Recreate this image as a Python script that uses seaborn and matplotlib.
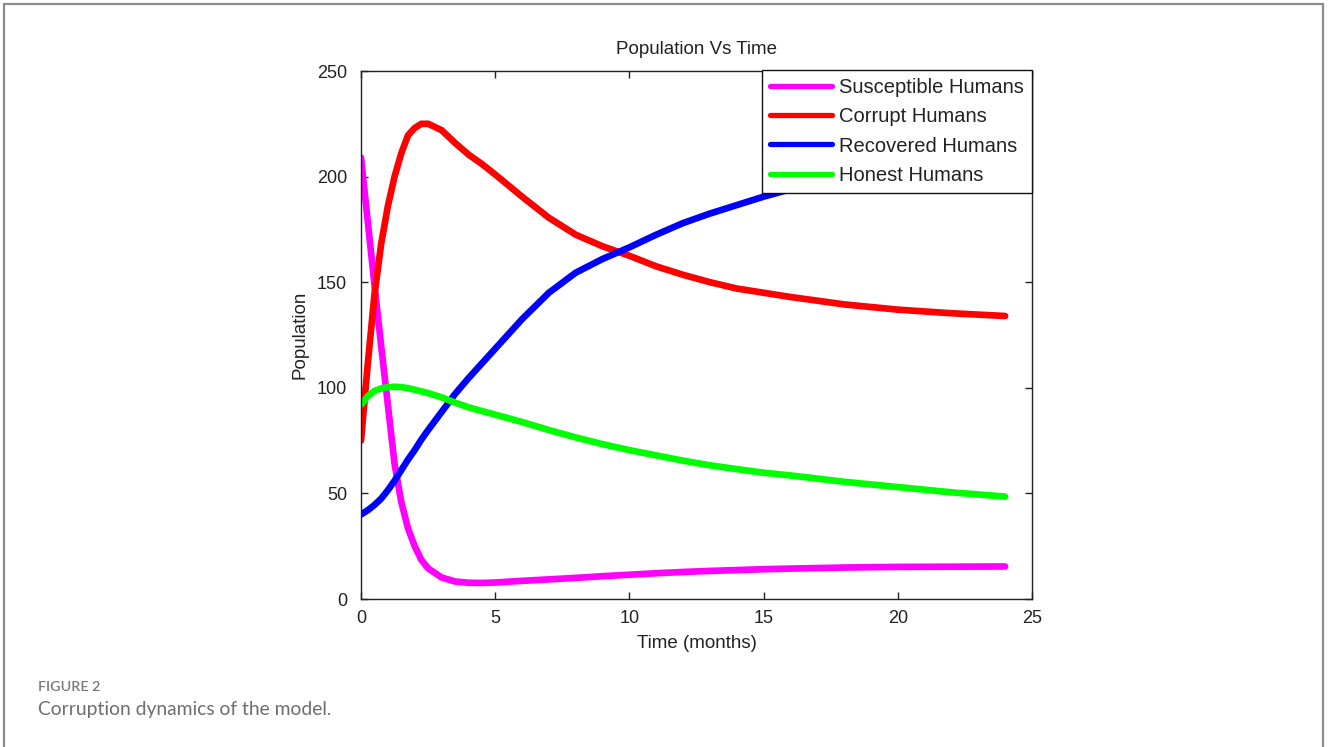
import numpy as np
import pandas as pd
import matplotlib
matplotlib.use("Agg")
import matplotlib.pyplot as plt
from matplotlib.patches import Rectangle
from matplotlib.lines import Line2D
import seaborn as sns

# ---- data ----
time_months = [0, 0.25, 0.5, 0.75, 1, 1.25, 1.5, 1.75, 2, 2.25, 2.5, 3, 3.5, 4, 4.5,
               5, 6, 7, 8, 9, 10, 11, 12, 13, 14, 15, 16, 18, 20, 22, 24]
susceptible = [209, 179, 149, 120, 92, 64, 46, 33.5, 25, 18.5, 14.5, 10.2, 8.3, 7.7, 7.6,
               7.8, 8.6, 9.3, 10.0, 10.8, 11.5, 12.2, 12.8, 13.3, 13.7, 14.1, 14.4, 14.9, 15.2, 15.3, 15.4]
corrupt = [75, 111, 144, 168, 186, 200, 211, 219.5, 223, 225, 225, 222, 216, 210.5, 206,
           201, 190.5, 180.5, 172.5, 167, 162.5, 157.5, 153.5, 150, 147, 145, 143, 139.5, 137, 135.3, 134]
recovered = [40, 42, 44.5, 47.5, 51.5, 56, 61, 66, 70.5, 75.5, 80, 88.5, 97, 104.5, 111.5,
             118.5, 132.5, 145, 154.5, 161, 166.5, 172.5, 178, 182.5, 186.5, 190.5, 194, 200, 205, 209, 212]
honest = [92, 96, 98.5, 99.7, 100.3, 100.5, 100.3, 99.8, 99.1, 98.3, 97.5, 95.5, 93, 90.8, 89,
          87.3, 83.8, 80, 76.5, 73.3, 70.5, 68, 65.5, 63.3, 61.5, 59.8, 58.5, 55.5, 53, 50.5, 48.5]

series_names = ["Susceptible Humans", "Corrupt Humans", "Recovered Humans", "Honest Humans"]
series_colors = ["#ff00ff", "#ff0000", "#0000ff", "#00ff00"]
x_ticks = [0, 5, 10, 15, 20, 25]
y_ticks = [0, 50, 100, 150, 200, 250]

frames = []
for name, vals in zip(series_names, [susceptible, corrupt, recovered, honest]):
    frames.append(pd.DataFrame({"Time": time_months, "Population": vals, "Series": name}))
df = pd.concat(frames, ignore_index=True)

# ---- style ----
sns.set_style("ticks")
plt.rcParams["font.family"] = ["Liberation Sans", "DejaVu Sans"]

W, H = 1328, 747
fig = plt.figure(figsize=(W / 100, H / 100), dpi=100)
fig.patch.set_facecolor("white")

# outer frame (open at the bottom)
fig.patches.append(Rectangle((4 / W, -0.05), (1323 - 4) / W, 1.05 - 4 / H,
                             transform=fig.transFigure, fill=False,
                             edgecolor="#8c8c8c", linewidth=1.6))

ax = fig.add_axes([361 / W, 1 - 599 / H, (1032 - 361) / W, (599 - 71) / H])

sns.lineplot(data=df, x="Time", y="Population", hue="Series",
             palette=dict(zip(series_names, series_colors)),
             hue_order=series_names, linewidth=4.8, ax=ax, legend=False,
             estimator=None, sort=False)
for ln in ax.get_lines():
    ln.set_solid_joinstyle("round")

ax.set_xlim(0, 25)
ax.set_ylim(0, 250)
ax.set_xticks(x_ticks)
ax.set_yticks(y_ticks)
ax.set_xticklabels([str(v) for v in x_ticks])
ax.set_yticklabels([str(v) for v in y_ticks])
ax.tick_params(direction="in", length=5, width=1, top=True, right=True,
               labelsize=13, colors="#222222")
ax.tick_params(axis="x", pad=8)
ax.tick_params(axis="y", pad=10)
for s in ax.spines.values():
    s.set_visible(True)
    s.set_color("#222222")
    s.set_linewidth(1.0)

ax.set_title("Population Vs Time", fontsize=13.5, color="#222222", pad=12)
ax.set_xlabel("Time (months)", fontsize=13.5, color="#222222", labelpad=6)
ax.set_ylabel("Population", fontsize=13.5, color="#222222", labelpad=6)

handles = [Line2D([0], [0], color=c, lw=3.8) for c in series_colors]
leg = ax.legend(handles, series_names, loc="upper right", bbox_to_anchor=(1.0, 1.002),
                borderaxespad=0, fontsize=14.5, frameon=True, fancybox=False,
                edgecolor="#111111", framealpha=1, handlelength=3.1,
                handletextpad=0.35, labelspacing=0.52, borderpad=0.38)
leg.get_frame().set_linewidth(1.0)
for t in leg.get_texts():
    t.set_color("#222222")

# caption
fig.text(38 / W, 1 - 687 / H, "FIGURE 2", fontsize=10.3, color="#777777",
         fontweight="semibold", family=["Lato", "DejaVu Sans"], va="center", ha="left")
fig.text(38 / W, 1 - 710 / H, "Corruption dynamics of the model.", fontsize=13.9,
         color="#6e6e6e", family=["Lato", "DejaVu Sans"], va="center", ha="left")

fig.savefig("out.png", dpi=100, facecolor="white")
